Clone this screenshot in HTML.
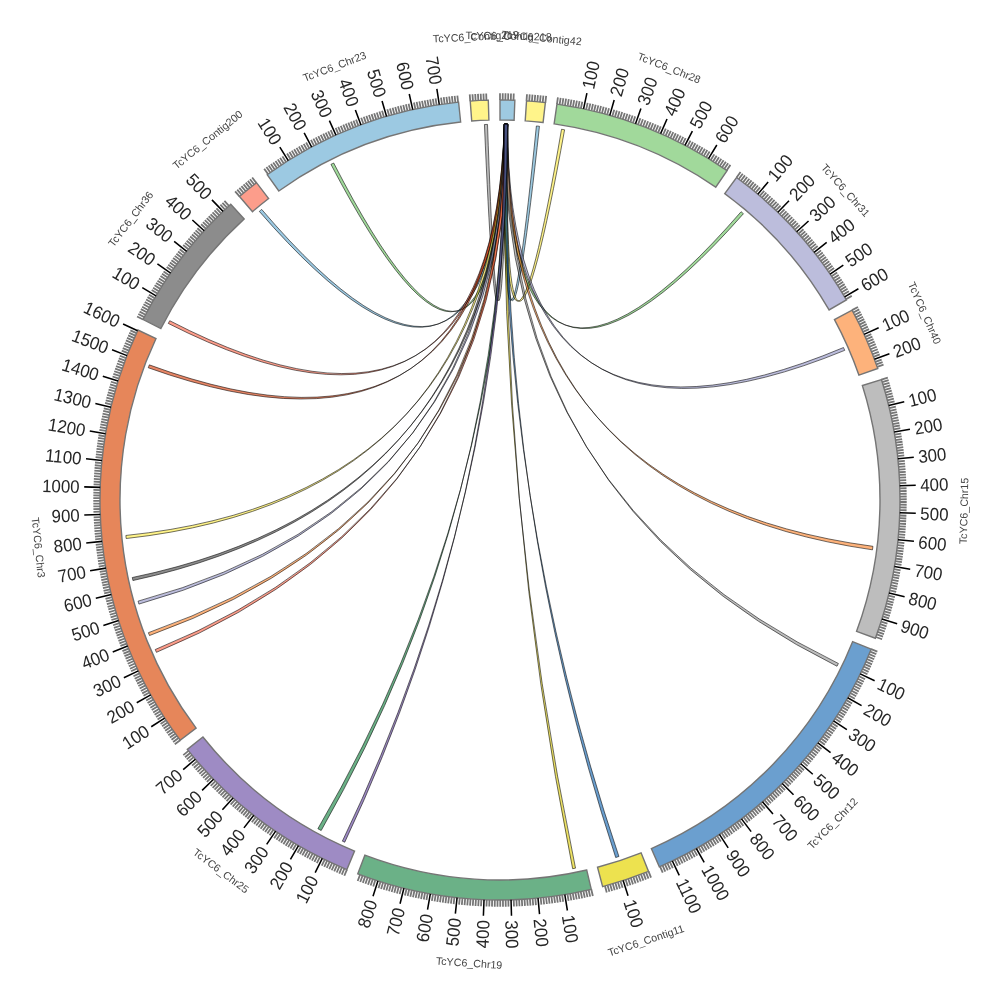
<!DOCTYPE html><html><head><meta charset="utf-8"><title>circos</title><style>html,body{margin:0;padding:0;background:#fff}svg{display:block}</style></head><body><svg width="1000" height="1000" viewBox="0 0 1000 1000" font-family="'Liberation Sans', sans-serif"><path d="M500 100A400.0 400.0 0 0 1 514.86 100.28L514.12 120.26A380.0 380.0 0 0 0 500 120Z" fill="#9ecae1" stroke="#757575" stroke-width="1.4" stroke-linejoin="miter"/>
<path d="M526.53 100.88A400.0 400.0 0 0 1 545.37 102.58L543.1 122.45A380.0 380.0 0 0 0 525.21 120.84Z" fill="#fff48a" stroke="#757575" stroke-width="1.4" stroke-linejoin="miter"/>
<path d="M556.97 104.08A400.0 400.0 0 0 1 727.07 170.7L715.72 187.16A380.0 380.0 0 0 0 554.12 123.87Z" fill="#a1d99b" stroke="#757575" stroke-width="1.4" stroke-linejoin="miter"/>
<path d="M736.59 177.47A400.0 400.0 0 0 1 846.38 299.95L829.06 309.95A380.0 380.0 0 0 0 724.76 193.6Z" fill="#bcbddc" stroke="#757575" stroke-width="1.4" stroke-linejoin="miter"/>
<path d="M852.08 310.16A400.0 400.0 0 0 1 877.76 368.47L858.87 375.04A380.0 380.0 0 0 0 834.48 319.65Z" fill="#fdb27b" stroke="#757575" stroke-width="1.4" stroke-linejoin="miter"/>
<path d="M881.44 379.56A400.0 400.0 0 0 1 875.35 638.24L856.58 631.33A380.0 380.0 0 0 0 862.37 385.58Z" fill="#bdbdbd" stroke="#757575" stroke-width="1.4" stroke-linejoin="miter"/>
<path d="M871.15 649.15A400.0 400.0 0 0 1 659.33 866.9L651.36 848.55A380.0 380.0 0 0 0 852.59 641.7Z" fill="#6b9fcf" stroke="#757575" stroke-width="1.4" stroke-linejoin="miter"/>
<path d="M648.54 871.4A400.0 400.0 0 0 1 602.65 886.6L597.52 867.27A380.0 380.0 0 0 0 641.11 852.83Z" fill="#ede24f" stroke="#757575" stroke-width="1.4" stroke-linejoin="miter"/>
<path d="M591.31 889.44A400.0 400.0 0 0 1 357.75 873.85L364.87 855.16A380.0 380.0 0 0 0 586.74 869.97Z" fill="#6bb187" stroke="#757575" stroke-width="1.4" stroke-linejoin="miter"/>
<path d="M346.89 869.54A400.0 400.0 0 0 1 187.3 749.43L202.93 736.96A380.0 380.0 0 0 0 354.55 851.06Z" fill="#9e8bc4" stroke="#757575" stroke-width="1.4" stroke-linejoin="miter"/>
<path d="M180.14 740.19A400.0 400.0 0 0 1 137.92 330.01L156.02 338.51A380.0 380.0 0 0 0 196.13 728.18Z" fill="#e6865a" stroke="#757575" stroke-width="1.4" stroke-linejoin="miter"/>
<path d="M143.04 319.5A400.0 400.0 0 0 1 230.74 204.2L244.2 218.99A380.0 380.0 0 0 0 160.89 328.53Z" fill="#8c8c8c" stroke="#757575" stroke-width="1.4" stroke-linejoin="miter"/>
<path d="M239.5 196.46A400.0 400.0 0 0 1 256.49 182.66L268.66 198.53A380.0 380.0 0 0 0 252.52 211.64Z" fill="#fc9d8b" stroke="#757575" stroke-width="1.4" stroke-linejoin="miter"/>
<path d="M267.18 174.74A400.0 400.0 0 0 1 458.59 102.15L460.66 122.04A380.0 380.0 0 0 0 278.82 191Z" fill="#9cc9e2" stroke="#757575" stroke-width="1.4" stroke-linejoin="miter"/>
<path d="M470.23 101.11A400.0 400.0 0 0 1 488.31 100.17L488.9 120.16A380.0 380.0 0 0 0 471.72 121.05Z" fill="#fff48a" stroke="#757575" stroke-width="1.4" stroke-linejoin="miter"/>
<path d="M500 100L500 93.3M502.7 100.01L502.75 93.31M505.4 100.04L505.5 93.34M508.11 100.08L508.24 93.38M510.81 100.15L510.99 93.45M513.51 100.23L513.74 93.53M526.53 100.88L526.98 94.2M529.23 101.07L529.72 94.39M531.92 101.28L532.46 94.6M534.62 101.5L535.2 94.83M537.31 101.74L537.93 95.07M540 102L540.67 95.34M542.69 102.28L543.4 95.62M545.37 102.58L546.13 95.92M556.97 104.08L557.92 97.45M559.64 104.47L560.64 97.85M562.31 104.88L563.35 98.26M564.98 105.31L566.07 98.7M567.64 105.76L568.78 99.16M570.31 106.23L571.48 99.63M572.96 106.71L574.19 100.12M575.62 107.21L576.89 100.63M578.27 107.73L579.58 101.16M580.92 108.27L582.28 101.71M586.21 109.4L587.65 102.86M588.84 109.99L590.33 103.46M591.48 110.6L593.01 104.08M594.1 111.23L595.68 104.72M596.73 111.87L598.35 105.37M599.35 112.53L601.01 106.04M601.97 113.21L603.67 106.74M604.58 113.91L606.33 107.45M607.18 114.63L608.98 108.17M612.38 116.11L614.26 109.68M614.97 116.88L616.9 110.46M617.56 117.66L619.53 111.26M620.14 118.47L622.15 112.08M622.71 119.29L624.77 112.91M625.28 120.13L627.38 113.76M627.84 120.98L629.99 114.63M630.4 121.85L632.59 115.52M632.95 122.74L635.18 116.42M638.04 124.57L640.35 118.29M640.57 125.51L642.93 119.24M643.1 126.47L645.5 120.22M645.62 127.45L648.06 121.21M648.13 128.44L650.62 122.22M650.64 129.45L653.16 123.24M653.14 130.48L655.71 124.29M655.63 131.52L658.24 125.35M658.12 132.58L660.77 126.42M663.07 134.75L665.8 128.63M665.53 135.86L668.31 129.76M667.99 136.99L670.8 130.91M670.44 138.13L673.29 132.07M672.88 139.29L675.78 133.25M675.31 140.47L678.25 134.44M677.74 141.66L680.72 135.66M680.16 142.87L683.17 136.89M682.56 144.09L685.62 138.13M687.36 146.59L690.49 140.67M689.74 147.87L692.92 141.97M692.11 149.16L695.33 143.28M694.48 150.46L697.74 144.61M696.84 151.78L700.13 145.95M699.19 153.12L702.52 147.31M701.53 154.47L704.9 148.69M703.85 155.84L707.27 150.08M706.18 157.23L709.63 151.49M710.79 160.05L714.32 154.35M713.08 161.48L716.65 155.81M715.36 162.93L718.97 157.28M717.63 164.39L721.28 158.77M719.9 165.87L723.58 160.27M722.15 167.36L725.87 161.79M724.39 168.87L728.15 163.32M726.62 170.39L730.42 164.87M736.59 177.47L740.56 172.07M738.77 179.08L742.77 173.7M740.93 180.7L744.97 175.35M743.08 182.34L747.15 177.01M745.22 183.98L749.33 178.69M747.35 185.65L751.5 180.38M749.47 187.33L753.65 182.09M751.58 189.02L755.79 183.81M753.67 190.73L757.92 185.55M755.76 192.45L760.04 187.3M759.89 195.93L764.24 190.84M761.94 197.69L766.32 192.63M763.97 199.47L768.4 194.44M766 201.26L770.45 196.26M768.01 203.07L772.5 198.09M770.01 204.88L774.53 199.94M772 206.71L776.55 201.8M773.97 208.56L778.56 203.68M775.94 210.42L780.56 205.57M779.82 214.17L784.51 209.38M781.75 216.07L786.47 211.31M783.66 217.98L788.41 213.25M785.56 219.9L790.34 215.21M787.45 221.84L792.26 217.18M789.32 223.78L794.16 219.16M791.18 225.75L796.06 221.15M793.02 227.72L797.93 223.16M794.86 229.71L799.8 225.18M798.48 233.71L803.48 229.25M800.27 235.74L805.3 231.31M802.05 237.77L807.11 233.38M803.82 239.82L808.91 235.46M805.57 241.88L810.69 237.55M807.31 243.95L812.45 239.66M809.03 246.03L814.2 241.78M810.74 248.12L815.94 243.9M812.43 250.23L817.67 246.04M815.78 254.47L821.07 250.36M817.43 256.61L822.75 252.53M819.07 258.76L824.41 254.72M820.69 260.92L826.06 256.92M822.3 263.09L827.7 259.13M823.89 265.28L829.32 261.35M825.47 267.47L830.92 263.58M827.03 269.68L832.51 265.82M828.58 271.89L834.09 268.07M831.63 276.35L837.19 272.6M833.14 278.6L838.72 274.89M834.63 280.85L840.23 277.18M836.1 283.12L841.73 279.49M837.56 285.39L843.21 281.8M839 287.68L844.68 284.12M840.43 289.97L846.13 286.46M841.84 292.28L847.56 288.8M843.23 294.59L848.98 291.15M845.98 299.25L851.77 295.89M852.08 310.16L857.98 306.98M853.35 312.54L859.27 309.4M854.61 314.93L860.55 311.83M855.86 317.33L861.82 314.27M857.08 319.74L863.06 316.72M858.29 322.16L864.29 319.18M859.48 324.58L865.51 321.64M860.66 327.02L866.7 324.12M861.82 329.46L867.88 326.6M862.97 331.9L869.05 329.09M865.2 336.82L871.32 334.09M866.3 339.3L872.43 336.6M867.38 341.77L873.53 339.12M868.44 344.26L874.61 341.65M869.48 346.75L875.67 344.19M870.51 349.25L876.71 346.73M871.52 351.76L877.74 349.28M872.51 354.27L878.75 351.83M873.49 356.79L879.74 354.39M875.39 361.85L881.67 359.54M876.31 364.39L882.61 362.12M877.22 366.94L883.54 364.71M881.44 379.56L887.83 377.54M882.24 382.14L888.65 380.17M883.03 384.73L889.45 382.8M883.8 387.32L890.23 385.43M884.55 389.91L890.99 388.07M885.29 392.51L891.74 390.71M886.01 395.12L892.47 393.36M886.7 397.73L893.18 396.02M887.39 400.34L893.88 398.67M888.05 402.96L894.55 401.34M889.33 408.22L895.85 406.68M889.94 410.85L896.47 409.35M890.53 413.48L897.07 412.04M891.11 416.13L897.66 414.72M891.67 418.77L898.23 417.41M892.21 421.42L898.77 420.1M892.73 424.07L899.31 422.8M893.23 426.72L899.82 425.5M893.72 429.38L900.31 428.2M894.64 434.71L901.25 433.62M895.07 437.38L901.68 436.33M895.48 440.05L902.11 439.04M895.88 442.72L902.51 441.76M896.26 445.4L902.89 444.48M896.62 448.07L903.26 447.21M896.96 450.76L903.61 449.93M897.28 453.44L903.94 452.66M897.59 456.12L904.25 455.39M898.14 461.5L904.81 460.86M898.39 464.19L905.07 463.59M898.63 466.88L905.3 466.33M898.84 469.58L905.52 469.07M899.04 472.27L905.72 471.81M899.22 474.97L905.9 474.55M899.38 477.67L906.07 477.29M899.52 480.37L906.21 480.04M899.64 483.07L906.34 482.78M899.83 488.47L906.53 488.27M899.9 491.17L906.6 491.02M899.95 493.87L906.65 493.77M899.99 496.57L906.69 496.52M900 499.28L906.7 499.26M900 501.98L906.7 502.01M899.97 504.68L906.67 504.76M899.93 507.38L906.63 507.51M899.87 510.08L906.57 510.25M899.7 515.49L906.4 515.75M899.59 518.19L906.28 518.49M899.45 520.89L906.15 521.24M899.3 523.58L905.99 523.98M899.14 526.28L905.82 526.72M898.95 528.98L905.63 529.46M898.74 531.67L905.42 532.2M898.52 534.37L905.2 534.94M898.28 537.06L904.95 537.68M897.74 542.44L904.4 543.15M897.45 545.12L904.1 545.88M897.13 547.81L903.78 548.61M896.8 550.49L903.45 551.33M896.45 553.17L903.09 554.06M896.08 555.84L902.72 556.78M895.7 558.52L902.32 559.5M895.29 561.19L901.91 562.22M894.87 563.86L901.48 564.93M893.97 569.19L900.57 570.35M893.49 571.85L900.08 573.05M893 574.51L899.58 575.76M892.49 577.16L899.06 578.45M891.96 579.81L898.52 581.15M891.41 582.46L897.96 583.84M890.84 585.1L897.39 586.53M890.26 587.74L896.8 589.21M889.66 590.37L896.18 591.89M888.4 595.63L894.91 597.23M887.75 598.25L894.24 599.9M887.07 600.87L893.56 602.56M886.38 603.48L892.85 605.22M885.67 606.09L892.13 607.87M884.95 608.69L891.4 610.51M884.21 611.29L890.64 613.16M883.45 613.89L889.87 615.79M882.67 616.47L889.08 618.42M881.06 621.63L887.44 623.67M880.23 624.2L886.6 626.29M879.38 626.77L885.73 628.89M878.51 629.33L884.85 631.5M877.63 631.89L883.96 634.09M876.73 634.43L883.04 636.69M875.82 636.98L882.11 639.27M871.15 649.15L877.37 651.65M870.14 651.66L876.33 654.2M869.1 654.15L875.28 656.74M868.05 656.65L874.22 659.27M866.99 659.13L873.13 661.79M865.9 661.6L872.03 664.31M864.8 664.07L870.91 666.82M863.68 666.53L869.78 669.32M862.55 668.99L868.62 671.82M861.4 671.43L867.45 674.3M859.05 676.3L865.07 679.25M857.85 678.72L863.85 681.72M856.64 681.14L862.61 684.17M855.41 683.54L861.36 686.62M854.16 685.94L860.09 689.05M852.89 688.33L858.8 691.48M851.61 690.71L857.5 693.9M850.32 693.08L856.18 696.31M849 695.44L854.85 698.71M846.33 700.14L852.13 703.49M844.97 702.47L850.75 705.86M843.59 704.8L849.35 708.23M842.2 707.12L847.94 710.58M840.8 709.42L846.5 712.93M839.37 711.72L845.06 715.27M837.94 714.01L843.6 717.59M836.48 716.29L842.12 719.91M835.01 718.56L840.62 722.22M832.03 723.06L837.59 726.8M830.51 725.3L836.05 729.07M828.98 727.53L834.5 731.34M827.44 729.75L832.92 733.59M825.88 731.95L831.34 735.84M824.31 734.15L829.74 738.07M822.72 736.33L828.12 740.29M821.11 738.51L826.49 742.5M819.49 740.67L824.85 744.71M816.21 744.97L821.51 749.07M814.55 747.1L819.82 751.24M812.87 749.22L818.11 753.39M811.18 751.33L816.39 755.54M809.48 753.42L814.66 757.67M807.76 755.51L812.91 759.79M806.02 757.58L811.15 761.9M804.28 759.64L809.37 763.99M802.52 761.69L807.58 766.08M798.95 765.76L803.96 770.21M797.15 767.77L802.13 772.26M795.33 769.77L800.28 774.29M793.51 771.76L798.42 776.31M791.66 773.74L796.55 778.32M789.81 775.7L794.66 780.32M787.94 777.65L792.76 782.31M786.05 779.59L790.85 784.28M784.16 781.52L788.92 786.24M780.33 785.33L785.02 790.11M778.39 787.22L783.06 792.03M776.45 789.1L781.08 793.94M774.49 790.96L779.09 795.83M772.52 792.8L777.08 797.71M770.53 794.64L775.06 799.57M768.54 796.46L773.03 801.43M766.53 798.27L770.99 803.26M764.51 800.06L768.94 805.09M760.43 803.61L764.79 808.69M758.37 805.36L762.7 810.48M756.3 807.1L760.59 812.24M754.22 808.82L758.48 814M752.13 810.53L756.35 815.74M750.02 812.23L754.21 817.46M747.91 813.91L752.06 819.17M745.78 815.58L749.9 820.87M743.64 817.23L747.73 822.55M739.34 820.5L743.34 825.87M737.16 822.11L741.14 827.5M734.98 823.7L738.92 829.12M732.79 825.28L736.69 830.73M730.59 826.85L734.45 832.32M728.37 828.4L732.2 833.9M726.15 829.93L729.94 835.46M723.92 831.45L727.67 837.01M721.67 832.96L725.38 838.54M717.15 835.92L720.79 841.55M714.88 837.38L718.48 843.03M712.59 838.83L716.15 844.5M710.3 840.26L713.82 845.96M708 841.67L711.48 847.39M705.68 843.07L709.13 848.81M703.36 844.45L706.77 850.22M701.03 845.81L704.4 851.61M698.69 847.16L702.02 852.98M693.98 849.82L697.23 855.68M691.61 851.12L694.82 857M689.23 852.41L692.4 858.31M686.85 853.68L689.98 859.6M684.45 854.93L687.54 860.88M682.05 856.17L685.1 862.14M679.64 857.39L682.65 863.38M677.22 858.6L680.19 864.6M674.8 859.79L677.72 865.81M669.92 862.12L672.77 868.18M667.47 863.26L670.27 869.34M665.01 864.38L667.77 870.48M662.55 865.48L665.27 871.61M660.07 866.57L662.75 872.71M648.54 871.4L651.03 877.62M646.03 872.39L648.47 878.63M643.51 873.37L645.91 879.62M640.98 874.33L643.34 880.6M638.45 875.28L640.77 881.56M635.91 876.2L638.19 882.5M633.37 877.11L635.6 883.43M630.82 878L633.01 884.34M628.26 878.88L630.41 885.23M625.7 879.74L627.8 886.1M620.55 881.4L622.57 887.79M617.97 882.21L619.95 888.61M615.39 883L617.32 889.41M612.8 883.77L614.69 890.19M610.2 884.52L612.05 890.96M607.6 885.26L609.41 891.71M605 885.97L606.76 892.44M591.31 889.44L592.84 895.96M588.68 890.05L590.16 896.58M586.04 890.64L587.48 897.18M583.4 891.21L584.79 897.76M580.75 891.76L582.1 898.33M578.1 892.3L579.41 898.87M575.45 892.82L576.71 899.4M572.8 893.32L574.01 899.91M570.14 893.8L571.31 900.4M567.47 894.27L568.6 900.87M562.14 895.14L563.18 901.76M559.47 895.55L560.47 902.18M556.8 895.95L557.75 902.58M554.12 896.32L555.03 902.96M551.44 896.68L552.3 903.32M548.76 897.02L549.58 903.67M546.08 897.34L546.85 903.99M543.39 897.64L544.12 904.3M540.7 897.92L541.38 904.59M535.32 898.44L535.91 905.11M532.63 898.67L533.18 905.34M529.94 898.88L530.44 905.56M527.24 899.07L527.7 905.76M524.54 899.25L524.95 905.93M521.84 899.4L522.21 906.09M519.15 899.54L519.47 906.23M516.45 899.66L516.72 906.36M513.75 899.76L513.98 906.46M508.34 899.91L508.48 906.61M505.64 899.96L505.74 906.66M502.94 899.99L502.99 906.69M500.24 900L500.24 906.7M497.53 899.99L497.49 906.69M494.83 899.97L494.74 906.67M492.13 899.92L492 906.62M489.43 899.86L489.25 906.56M486.73 899.78L486.5 906.48M481.33 899.56L481.01 906.26M478.63 899.43L478.27 906.12M475.93 899.28L475.52 905.96M473.23 899.1L472.78 905.79M470.54 898.91L470.04 905.6M467.84 898.71L467.3 905.38M465.15 898.48L464.56 905.15M462.46 898.23L461.83 904.9M459.77 897.97L459.09 904.64M454.39 897.39L453.63 904.05M451.71 897.07L450.9 903.73M449.03 896.74L448.17 903.38M446.35 896.39L445.45 903.02M443.67 896.01L442.73 902.65M441 895.62L440.01 902.25M438.33 895.22L437.29 901.84M435.66 894.79L434.58 901.4M432.99 894.35L431.87 900.95M427.67 893.41L426.46 900M425.01 892.91L423.76 899.49M422.36 892.39L421.06 898.97M419.71 891.86L418.37 898.42M417.06 891.31L415.68 897.86M414.42 890.74L412.99 897.28M411.78 890.15L410.31 896.69M409.15 889.55L407.63 896.07M406.52 888.92L404.96 895.44M401.27 887.63L399.62 894.12M398.66 886.95L396.96 893.43M396.05 886.26L394.3 892.73M393.44 885.54L391.65 892M390.84 884.82L389.01 891.26M388.24 884.07L386.37 890.5M385.65 883.31L383.73 889.73M383.06 882.52L381.1 888.93M380.48 881.73L378.48 888.12M375.33 880.08L373.24 886.44M372.77 879.22L370.63 885.58M370.21 878.36L368.03 884.69M367.65 877.47L365.44 883.79M365.11 876.57L362.85 882.88M362.56 875.65L360.26 881.94M360.03 874.71L357.69 880.99M346.89 869.54L344.33 875.73M344.4 868.49L341.79 874.67M341.91 867.43L339.26 873.59M339.43 866.36L336.74 872.49M336.96 865.26L334.23 871.38M334.5 864.15L331.72 870.25M332.04 863.03L329.23 869.11M329.59 861.89L326.74 867.95M327.15 860.73L324.26 866.77M324.72 859.55L321.78 865.57M319.88 857.15L316.86 863.13M317.47 855.92L314.41 861.89M315.07 854.68L311.97 860.62M312.67 853.42L309.54 859.34M310.29 852.15L307.11 858.05M307.92 850.86L304.7 856.74M305.55 849.56L302.29 855.41M303.19 848.23L299.9 854.07M300.84 846.9L297.51 852.71M296.17 844.17L292.76 849.94M293.85 842.79L290.4 848.53M291.54 841.39L288.05 847.11M289.24 839.97L285.71 845.67M286.95 838.54L283.38 844.21M284.67 837.09L281.06 842.74M282.39 835.63L278.75 841.25M280.13 834.15L276.45 839.75M277.88 832.66L274.16 838.23M273.4 829.63L269.61 835.15M271.18 828.09L267.35 833.58M268.97 826.54L265.1 832.01M266.77 824.97L262.86 830.41M264.58 823.38L260.64 828.8M262.4 821.79L258.42 827.18M260.23 820.17L256.22 825.54M258.07 818.55L254.02 823.88M255.93 816.9L251.84 822.21M251.67 813.58L247.51 818.83M249.55 811.89L245.36 817.12M247.45 810.19L243.22 815.39M245.36 808.48L241.1 813.65M243.29 806.75L238.99 811.89M241.22 805.01L236.88 810.12M239.16 803.26L234.79 808.34M237.12 801.49L232.72 806.54M235.09 799.7L230.65 804.72M231.06 796.1L226.56 801.06M229.07 794.27L224.53 799.2M227.09 792.44L222.52 797.33M225.12 790.59L220.51 795.45M223.16 788.72L218.52 793.56M221.22 786.85L216.55 791.65M219.29 784.96L214.58 789.73M217.37 783.05L212.63 787.79M215.46 781.14L210.69 785.85M211.69 777.27L206.86 781.91M209.82 775.31L204.96 779.92M207.97 773.34L203.08 777.92M206.13 771.37L201.21 775.91M204.3 769.37L199.35 773.89M202.49 767.37L197.5 771.85M200.69 765.35L195.67 769.8M198.9 763.33L193.86 767.74M197.13 761.29L192.06 765.66M193.63 757.17L188.5 761.48M191.9 755.09L186.74 759.37M190.18 753.01L184.99 757.24M188.48 750.91L183.26 755.11M180.14 740.19L174.78 744.21M178.52 738.02L173.14 742.01M176.92 735.84L171.51 739.79M175.34 733.65L169.9 737.57M173.77 731.46L168.3 735.33M172.21 729.25L166.72 733.09M170.67 727.03L165.15 730.83M169.14 724.8L163.6 728.56M167.63 722.56L162.06 726.28M166.14 720.31L160.54 724M163.19 715.77L157.55 719.39M161.74 713.49L156.07 717.07M160.3 711.2L154.61 714.74M158.89 708.9L153.17 712.4M157.48 706.59L151.74 710.05M156.09 704.28L150.33 707.7M154.72 701.95L148.94 705.33M153.36 699.61L147.56 702.95M152.02 697.26L146.2 700.57M149.39 692.54L143.52 695.77M148.1 690.17L142.2 693.36M146.82 687.79L140.91 690.93M145.56 685.4L139.62 688.5M144.32 683L138.36 686.06M143.09 680.59L137.11 683.62M141.88 678.18L135.88 681.16M140.68 675.75L134.66 678.7M139.5 673.32L133.46 676.22M137.19 668.43L131.11 671.26M136.06 665.98L129.97 668.76M134.95 663.52L128.83 666.26M133.85 661.05L127.72 663.74M132.77 658.57L126.62 661.22M131.71 656.08L125.54 658.7M130.66 653.59L124.48 656.17M129.63 651.09L123.43 653.62M128.62 648.59L122.4 651.08M126.65 643.56L120.39 645.96M125.69 641.03L119.42 643.39M124.74 638.5L118.46 640.82M123.82 635.96L117.51 638.24M122.91 633.42L116.59 635.65M122.01 630.86L115.68 633.06M121.14 628.31L114.79 630.46M120.28 625.75L113.92 627.85M119.44 623.18L113.06 625.24M117.81 618.02L111.41 620M117.02 615.44L110.6 617.37M116.25 612.85L109.82 614.74M115.49 610.25L109.05 612.1M114.76 607.65L108.31 609.46M114.04 605.05L107.58 606.81M113.34 602.44L106.86 604.15M112.66 599.82L106.17 601.49M111.99 597.2L105.49 598.83M110.71 591.95L104.19 593.49M110.1 589.32L103.57 590.82M109.51 586.68L102.96 588.14M108.93 584.04L102.38 585.45M108.37 581.4L101.81 582.76M107.83 578.75L101.26 580.07M107.31 576.1L100.73 577.37M106.8 573.45L100.21 574.68M106.31 570.79L99.72 571.97M105.39 565.46L98.78 566.56M104.96 562.79L98.34 563.85M104.54 560.12L97.92 561.13M104.15 557.45L97.52 558.41M103.77 554.77L97.13 555.69M103.41 552.1L96.76 552.97M103.06 549.42L96.42 550.24M102.74 546.73L96.09 547.52M102.43 544.05L95.77 544.79M101.87 538.67L95.21 539.32M101.62 535.98L94.95 536.58M101.39 533.29L94.71 533.85M101.17 530.59L94.49 531.11M100.97 527.9L94.29 528.37M100.79 525.2L94.11 525.62M100.63 522.5L93.94 522.88M100.49 519.81L93.8 520.14M100.37 517.11L93.67 517.39M100.17 511.71L93.47 511.9M100.1 509L93.4 509.15M100.05 506.3L93.35 506.41M100.02 503.6L93.32 503.66M100 500.9L93.3 500.91M100 498.19L93.3 498.16M100.03 495.49L93.33 495.42M100.06 492.79L93.37 492.67M100.12 490.09L93.42 489.92M100.29 484.69L93.6 484.43M100.41 481.99L93.71 481.68M100.54 479.29L93.85 478.94M100.69 476.59L94 476.2M100.85 473.89L94.17 473.45M101.04 471.19L94.36 470.71M101.24 468.5L94.56 467.97M101.46 465.81L94.79 465.23M101.7 463.11L95.03 462.5M102.24 457.74L95.58 457.03M102.53 455.05L95.88 454.3M102.85 452.37L96.19 451.57M103.18 449.68L96.53 448.84M103.53 447L96.89 446.12M103.89 444.33L97.26 443.39M104.28 441.65L97.65 440.67M104.68 438.98L98.06 437.96M105.1 436.31L98.49 435.24M106 430.98L99.4 429.82M106.48 428.32L99.88 427.12M106.97 425.66L100.39 424.42M107.48 423.01L100.9 421.72M108.01 420.36L101.44 419.02M108.56 417.71L102 416.33M109.12 415.07L102.57 413.65M109.7 412.43L103.17 410.96M110.3 409.79L103.78 408.28M111.56 404.54L105.05 402.94M112.21 401.92L105.72 400.27M112.88 399.3L106.4 397.61M113.57 396.68L107.1 394.95M114.28 394.08L107.82 392.3M115 391.47L108.56 389.65M115.75 388.87L109.31 387.01M116.51 386.28L110.08 384.38M117.28 383.69L110.87 381.74M118.89 378.53L112.51 376.5M119.72 375.96L113.35 373.88M120.57 373.39L114.21 371.27M121.43 370.83L115.09 368.67M122.31 368.28L115.98 366.07M123.21 365.73L116.9 363.48M124.13 363.19L117.83 360.89M125.06 360.65L118.78 358.32M126.01 358.12L119.74 355.74M127.96 353.08L121.73 350.62M128.96 350.57L122.75 348.07M129.98 348.07L123.78 345.52M131.01 345.57L124.83 342.98M132.07 343.08L125.9 340.45M133.13 340.6L126.99 337.93M134.22 338.12L128.09 335.41M135.32 335.65L129.21 332.9M136.44 333.19L130.35 330.4M143.04 319.5L137.06 316.48M144.27 317.09L138.31 314.03M145.51 314.69L139.57 311.59M146.77 312.3L140.86 309.16M148.05 309.92L142.15 306.74M149.34 307.55L143.47 304.32M150.65 305.18L144.8 301.92M151.97 302.83L146.14 299.52M153.31 300.48L147.51 297.14M154.67 298.14L148.88 294.76M157.43 293.49L151.69 290.04M158.83 291.18L153.12 287.69M160.25 288.88L154.56 285.35M161.68 286.59L156.02 283.02M163.13 284.31L157.49 280.7M164.6 282.04L158.98 278.39M166.08 279.78L160.49 276.09M167.57 277.53L162.01 273.8M169.08 275.29L163.54 271.53M172.15 270.84L166.66 267M173.71 268.63L168.24 264.75M175.28 266.43L169.84 262.52M176.86 264.24L171.45 260.29M178.46 262.06L173.08 258.08M180.08 259.9L174.72 255.87M181.71 257.74L176.38 253.68M183.35 255.59L178.05 251.5M185.01 253.46L179.73 249.33M188.37 249.23L183.15 245.03M190.07 247.13L184.88 242.89M191.79 245.04L186.62 240.77M193.52 242.96L188.38 238.66M195.26 240.9L190.16 236.56M197.02 238.85L191.94 234.47M198.79 236.8L193.74 232.4M200.57 234.78L195.56 230.33M202.37 232.76L197.39 228.28M206.01 228.76L201.09 224.22M207.85 226.78L202.96 222.2M209.7 224.81L204.84 220.2M211.57 222.86L206.74 218.22M213.45 220.92L208.65 216.24M215.34 218.99L210.57 214.28M217.24 217.07L212.51 212.33M219.16 215.17L214.46 210.39M221.09 213.27L216.42 208.47M224.99 209.53L220.39 204.67M226.96 207.68L222.39 202.78M228.94 205.84L224.4 200.92M239.5 196.46L235.13 191.37M241.55 194.71L237.22 189.59M243.62 192.97L239.33 187.82M245.7 191.24L241.44 186.07M247.79 189.53L243.57 184.33M249.9 187.83L245.71 182.6M252.01 186.15L247.86 180.89M254.14 184.48L250.02 179.2M256.27 182.83L252.19 177.52M268.06 174.11L264.18 168.65M270.27 172.55L266.42 167.07M272.49 171.01L268.68 165.49M274.71 169.48L270.94 163.94M276.95 167.96L273.22 162.4M279.2 166.46L275.5 160.88M281.46 164.98L277.8 159.37M283.73 163.51L280.1 157.87M286.01 162.06L282.42 156.39M290.59 159.19L287.08 153.49M292.9 157.79L289.43 152.06M295.22 156.4L291.79 150.64M297.54 155.02L294.15 149.24M299.88 153.66L296.53 147.86M302.22 152.32L298.91 146.49M304.58 150.99L301.3 145.14M306.94 149.68L303.7 143.81M309.31 148.38L306.11 142.49M314.08 145.84L310.96 139.9M316.47 144.59L313.4 138.63M318.88 143.36L315.85 137.38M321.29 142.14L318.3 136.15M323.72 140.94L320.76 134.93M326.15 139.76L323.23 133.72M328.58 138.59L325.71 132.54M331.03 137.44L328.2 131.37M333.48 136.31L330.69 130.22M338.41 134.09L335.71 127.96M340.89 133.01L338.22 126.86M343.37 131.94L340.75 125.78M345.86 130.89L343.28 124.71M348.36 129.86L345.82 123.66M350.86 128.84L348.36 122.63M353.37 127.84L350.92 121.61M355.89 126.86L353.48 120.61M358.42 125.9L356.04 119.63M363.48 124.02L361.2 117.72M366.03 123.1L363.78 116.79M368.58 122.21L366.37 115.88M371.13 121.33L368.97 114.98M373.69 120.47L371.58 114.11M376.26 119.62L374.19 113.25M378.83 118.79L376.8 112.41M381.41 117.98L379.42 111.58M383.99 117.19L382.05 110.78M389.18 115.66L387.32 109.22M391.78 114.92L389.96 108.47M394.38 114.2L392.61 107.73M396.99 113.49L395.26 107.02M399.6 112.8L397.92 106.32M402.22 112.13L400.58 105.64M404.84 111.48L403.25 104.98M407.47 110.85L405.92 104.33M410.1 110.23L408.6 103.7M415.38 109.05L413.96 102.51M418.02 108.49L416.65 101.93M420.67 107.95L419.34 101.38M423.32 107.42L422.03 100.84M425.97 106.91L424.73 100.33M428.63 106.42L427.43 99.83M431.29 105.95L430.14 99.34M433.95 105.49L432.85 98.88M436.62 105.05L435.56 98.44M441.96 104.23L440.99 97.6M444.64 103.85L443.71 97.21M447.32 103.48L446.43 96.84M450 103.14L449.16 96.49M452.68 102.81L451.89 96.16M455.36 102.5L454.62 95.84M458.05 102.21L457.35 95.54M470.23 101.11L469.73 94.43M472.93 100.92L472.47 94.23M475.62 100.74L475.22 94.06M478.32 100.59L477.96 93.9M481.02 100.45L480.7 93.76M483.72 100.33L483.45 93.64M486.42 100.23L486.19 93.53" stroke="#757575" stroke-width="1.8" fill="none"/>
<path d="M583.57 108.83L586.91 93.18M609.78 115.36L614.17 99.97M635.5 123.65L640.92 108.6M660.6 133.66L667.02 119M684.96 145.33L692.36 131.15M708.49 158.63L716.83 144.98M757.83 194.18L768.14 181.95M777.89 212.29L789 200.78M796.68 231.7L808.54 220.97M814.11 252.34L826.68 242.44M830.12 274.12L843.32 265.08M844.61 296.92L858.4 288.79M864.09 334.36L878.66 327.74M874.44 359.32L889.42 353.69M888.7 405.59L904.25 401.81M894.19 432.04L909.95 429.33M897.87 458.81L913.79 457.16M899.75 485.77L915.74 485.2M899.8 512.79L915.79 513.3M898.02 539.75L913.94 541.34M894.43 566.53L910.21 569.19M889.04 593L904.6 596.72M881.87 619.06L897.15 623.82M860.23 673.87L874.64 680.82M847.67 697.79L861.58 705.7M833.53 720.81L846.87 729.65M817.86 742.83L830.57 752.54M800.74 763.73L812.77 774.28M782.25 783.43L793.54 794.77M762.47 801.84L772.97 813.92M741.5 818.87L751.16 831.63M719.42 834.45L728.19 847.83M696.34 848.5L704.19 862.44M672.36 860.96L679.26 875.4M623.13 880.58L628.05 895.8M564.81 894.71L567.4 910.5M538.01 898.19L539.53 914.12M511.04 899.85L511.49 915.84M484.03 899.68L483.39 915.67M457.08 897.69L455.36 913.6M430.33 893.89L427.54 909.64M403.9 888.28L400.05 903.81M377.9 880.91L373.02 896.15M322.29 858.36L315.18 872.69M298.5 845.54L290.44 859.36M275.64 831.15L266.66 844.4M253.79 815.25L243.94 827.86M233.07 797.91L222.39 809.82M213.57 779.21L202.11 790.38M195.37 759.23L183.19 769.6M164.65 718.04L151.24 726.77M150.7 694.91L136.73 702.7M138.34 670.88L123.87 677.72M127.63 646.08L112.73 651.92M118.61 620.6L103.36 625.43M111.34 594.58L95.8 598.36M105.84 568.13L90.08 570.85M102.14 541.36L86.23 543.01M100.26 514.41L84.27 514.98M100.2 487.39L84.21 486.88M101.96 460.42L86.04 458.84M105.54 433.64L89.76 430.99M110.92 407.16L95.36 403.45M118.08 381.11L102.8 376.35M126.98 355.6L112.05 349.82M137.58 330.74L123.08 323.97M156.04 295.81L142.28 287.65M170.61 273.06L157.43 263.98M186.68 251.34L174.15 241.39M204.19 230.75L192.35 219.98M223.04 211.4L211.96 199.85M288.29 160.62L279.83 147.04M311.69 147.1L304.16 132.98M335.94 135.19L329.38 120.6M360.95 124.95L355.38 109.95M386.58 116.42L382.05 101.07M412.74 109.63L409.25 94.02M439.29 104.63L436.86 88.82" stroke="#000" stroke-width="1.55" fill="none"/>
<g font-size="18" fill="#262626"><text transform="translate(587.85,88.78) rotate(-77.94) scale(0.94,1)" text-anchor="start" dy="0.355em">100</text><text transform="translate(615.41,95.65) rotate(-74.07) scale(0.94,1)" text-anchor="start" dy="0.355em">200</text><text transform="translate(642.44,104.36) rotate(-70.2) scale(0.94,1)" text-anchor="start" dy="0.355em">300</text><text transform="translate(668.83,114.88) rotate(-66.33) scale(0.94,1)" text-anchor="start" dy="0.355em">400</text><text transform="translate(694.44,127.16) rotate(-62.46) scale(0.94,1)" text-anchor="start" dy="0.355em">500</text><text transform="translate(719.17,141.13) rotate(-58.59) scale(0.94,1)" text-anchor="start" dy="0.355em">600</text><text transform="translate(771.04,178.51) rotate(-49.87) scale(0.94,1)" text-anchor="start" dy="0.355em">100</text><text transform="translate(792.13,197.54) rotate(-46) scale(0.94,1)" text-anchor="start" dy="0.355em">200</text><text transform="translate(811.88,217.95) rotate(-42.12) scale(0.94,1)" text-anchor="start" dy="0.355em">300</text><text transform="translate(830.21,239.65) rotate(-38.25) scale(0.94,1)" text-anchor="start" dy="0.355em">400</text><text transform="translate(847.03,262.54) rotate(-34.38) scale(0.94,1)" text-anchor="start" dy="0.355em">500</text><text transform="translate(862.27,286.51) rotate(-30.51) scale(0.94,1)" text-anchor="start" dy="0.355em">600</text><text transform="translate(882.75,325.87) rotate(-24.46) scale(0.94,1)" text-anchor="start" dy="0.355em">100</text><text transform="translate(893.64,352.11) rotate(-20.59) scale(0.94,1)" text-anchor="start" dy="0.355em">200</text><text transform="translate(908.62,400.75) rotate(-13.65) scale(0.94,1)" text-anchor="start" dy="0.355em">100</text><text transform="translate(914.39,428.56) rotate(-9.78) scale(0.94,1)" text-anchor="start" dy="0.355em">200</text><text transform="translate(918.26,456.7) rotate(-5.91) scale(0.94,1)" text-anchor="start" dy="0.355em">300</text><text transform="translate(920.23,485.04) rotate(-2.04) scale(0.94,1)" text-anchor="start" dy="0.355em">400</text><text transform="translate(920.29,513.44) rotate(1.83) scale(0.94,1)" text-anchor="start" dy="0.355em">500</text><text transform="translate(918.42,541.78) rotate(5.7) scale(0.94,1)" text-anchor="start" dy="0.355em">600</text><text transform="translate(914.64,569.94) rotate(9.57) scale(0.94,1)" text-anchor="start" dy="0.355em">700</text><text transform="translate(908.98,597.77) rotate(13.44) scale(0.94,1)" text-anchor="start" dy="0.355em">800</text><text transform="translate(901.44,625.16) rotate(17.32) scale(0.94,1)" text-anchor="start" dy="0.355em">900</text><text transform="translate(878.7,682.78) rotate(25.76) scale(0.94,1)" text-anchor="start" dy="0.355em">100</text><text transform="translate(865.49,707.93) rotate(29.64) scale(0.94,1)" text-anchor="start" dy="0.355em">200</text><text transform="translate(850.62,732.13) rotate(33.51) scale(0.94,1)" text-anchor="start" dy="0.355em">300</text><text transform="translate(834.15,755.27) rotate(37.38) scale(0.94,1)" text-anchor="start" dy="0.355em">400</text><text transform="translate(816.15,777.25) rotate(41.25) scale(0.94,1)" text-anchor="start" dy="0.355em">500</text><text transform="translate(796.72,797.96) rotate(45.12) scale(0.94,1)" text-anchor="start" dy="0.355em">600</text><text transform="translate(775.92,817.31) rotate(48.99) scale(0.94,1)" text-anchor="start" dy="0.355em">700</text><text transform="translate(753.87,835.22) rotate(52.86) scale(0.94,1)" text-anchor="start" dy="0.355em">800</text><text transform="translate(730.66,851.59) rotate(56.73) scale(0.94,1)" text-anchor="start" dy="0.355em">900</text><text transform="translate(706.4,866.36) rotate(60.6) scale(0.94,1)" text-anchor="start" dy="0.355em">1000</text><text transform="translate(681.2,879.46) rotate(64.48) scale(0.94,1)" text-anchor="start" dy="0.355em">1100</text><text transform="translate(629.44,900.08) rotate(72.07) scale(0.94,1)" text-anchor="start" dy="0.355em">100</text><text transform="translate(568.13,914.94) rotate(80.68) scale(0.94,1)" text-anchor="start" dy="0.355em">100</text><text transform="translate(539.96,918.6) rotate(84.55) scale(0.94,1)" text-anchor="start" dy="0.355em">200</text><text transform="translate(511.61,920.34) rotate(88.42) scale(0.94,1)" text-anchor="start" dy="0.355em">300</text><text transform="translate(483.21,920.16) rotate(272.29) scale(0.94,1)" text-anchor="end" dy="0.355em">400</text><text transform="translate(454.88,918.07) rotate(276.16) scale(0.94,1)" text-anchor="end" dy="0.355em">500</text><text transform="translate(426.76,914.07) rotate(280.03) scale(0.94,1)" text-anchor="end" dy="0.355em">600</text><text transform="translate(398.97,908.18) rotate(283.9) scale(0.94,1)" text-anchor="end" dy="0.355em">700</text><text transform="translate(371.64,900.43) rotate(287.77) scale(0.94,1)" text-anchor="end" dy="0.355em">800</text><text transform="translate(313.18,876.72) rotate(296.38) scale(0.94,1)" text-anchor="end" dy="0.355em">100</text><text transform="translate(288.18,863.25) rotate(300.25) scale(0.94,1)" text-anchor="end" dy="0.355em">200</text><text transform="translate(264.14,848.12) rotate(304.12) scale(0.94,1)" text-anchor="end" dy="0.355em">300</text><text transform="translate(241.17,831.4) rotate(307.99) scale(0.94,1)" text-anchor="end" dy="0.355em">400</text><text transform="translate(219.39,813.18) rotate(311.86) scale(0.94,1)" text-anchor="end" dy="0.355em">500</text><text transform="translate(198.89,793.52) rotate(315.73) scale(0.94,1)" text-anchor="end" dy="0.355em">600</text><text transform="translate(179.76,772.52) rotate(319.6) scale(0.94,1)" text-anchor="end" dy="0.355em">700</text><text transform="translate(147.47,729.22) rotate(326.97) scale(0.94,1)" text-anchor="end" dy="0.355em">100</text><text transform="translate(132.8,704.9) rotate(330.84) scale(0.94,1)" text-anchor="end" dy="0.355em">200</text><text transform="translate(119.8,679.64) rotate(334.71) scale(0.94,1)" text-anchor="end" dy="0.355em">300</text><text transform="translate(108.54,653.56) rotate(338.58) scale(0.94,1)" text-anchor="end" dy="0.355em">400</text><text transform="translate(99.07,626.78) rotate(342.45) scale(0.94,1)" text-anchor="end" dy="0.355em">500</text><text transform="translate(91.42,599.43) rotate(346.32) scale(0.94,1)" text-anchor="end" dy="0.355em">600</text><text transform="translate(85.64,571.62) rotate(350.19) scale(0.94,1)" text-anchor="end" dy="0.355em">700</text><text transform="translate(81.75,543.48) rotate(354.06) scale(0.94,1)" text-anchor="end" dy="0.355em">800</text><text transform="translate(79.77,515.14) rotate(357.94) scale(0.94,1)" text-anchor="end" dy="0.355em">900</text><text transform="translate(79.71,486.74) rotate(361.81) scale(0.94,1)" text-anchor="end" dy="0.355em">1000</text><text transform="translate(81.56,458.4) rotate(365.68) scale(0.94,1)" text-anchor="end" dy="0.355em">1100</text><text transform="translate(85.33,430.24) rotate(369.55) scale(0.94,1)" text-anchor="end" dy="0.355em">1200</text><text transform="translate(90.98,402.41) rotate(373.42) scale(0.94,1)" text-anchor="end" dy="0.355em">1300</text><text transform="translate(98.5,375.02) rotate(377.29) scale(0.94,1)" text-anchor="end" dy="0.355em">1400</text><text transform="translate(107.86,348.2) rotate(381.16) scale(0.94,1)" text-anchor="end" dy="0.355em">1500</text><text transform="translate(119,322.07) rotate(385.03) scale(0.94,1)" text-anchor="end" dy="0.355em">1600</text><text transform="translate(138.41,285.35) rotate(390.69) scale(0.94,1)" text-anchor="end" dy="0.355em">100</text><text transform="translate(153.73,261.43) rotate(394.57) scale(0.94,1)" text-anchor="end" dy="0.355em">200</text><text transform="translate(170.63,238.59) rotate(398.44) scale(0.94,1)" text-anchor="end" dy="0.355em">300</text><text transform="translate(189.02,216.95) rotate(402.31) scale(0.94,1)" text-anchor="end" dy="0.355em">400</text><text transform="translate(208.84,196.61) rotate(406.18) scale(0.94,1)" text-anchor="end" dy="0.355em">500</text><text transform="translate(277.44,143.22) rotate(418.04) scale(0.94,1)" text-anchor="end" dy="0.355em">100</text><text transform="translate(302.04,129.01) rotate(421.92) scale(0.94,1)" text-anchor="end" dy="0.355em">200</text><text transform="translate(327.54,116.49) rotate(425.79) scale(0.94,1)" text-anchor="end" dy="0.355em">300</text><text transform="translate(353.82,105.73) rotate(429.66) scale(0.94,1)" text-anchor="end" dy="0.355em">400</text><text transform="translate(380.77,96.76) rotate(433.53) scale(0.94,1)" text-anchor="end" dy="0.355em">500</text><text transform="translate(408.27,89.63) rotate(437.4) scale(0.94,1)" text-anchor="end" dy="0.355em">600</text><text transform="translate(436.18,84.37) rotate(441.27) scale(0.94,1)" text-anchor="end" dy="0.355em">700</text></g>
<g font-size="10.7" fill="#444"><text transform="translate(508.62,36.08) rotate(1.06)" text-anchor="middle" dy="0.35em">TcYC6_Contig218</text><text transform="translate(541.72,37.88) rotate(5.16)" text-anchor="middle" dy="0.35em">TcYC6_Contig42</text><text transform="translate(669.21,67.95) rotate(21.39)" text-anchor="middle" dy="0.35em">TcYC6_Chr28</text><text transform="translate(845.51,190.29) rotate(48.13)" text-anchor="middle" dy="0.35em">TcYC6_Chr31</text><text transform="translate(924.65,313.01) rotate(66.23)" text-anchor="middle" dy="0.35em">TcYC6_Chr40</text><text transform="translate(963.87,510.91) rotate(-88.65)" text-anchor="middle" dy="0.35em">TcYC6_Chr15</text><text transform="translate(832.59,823.54) rotate(-45.79)" text-anchor="middle" dy="0.35em">TcYC6_Chr12</text><text transform="translate(645.96,940.45) rotate(-18.33)" text-anchor="middle" dy="0.35em">TcYC6_Contig11</text><text transform="translate(469.1,962.97) rotate(3.82)" text-anchor="middle" dy="0.35em">TcYC6_Chr19</text><text transform="translate(220.99,870.74) rotate(36.96)" text-anchor="middle" dy="0.35em">TcYC6_Chr25</text><text transform="translate(38.44,547.51) rotate(84.12)" text-anchor="middle" dy="0.35em">TcYC6_Chr3</text><text transform="translate(130.69,219.1) rotate(307.26)" text-anchor="middle" dy="0.35em">TcYC6_Chr36</text><text transform="translate(207.56,139.76) rotate(320.93)" text-anchor="middle" dy="0.35em">TcYC6_Contig200</text><text transform="translate(334.59,66.48) rotate(339.12)" text-anchor="middle" dy="0.35em">TcYC6_Chr23</text><text transform="translate(475.95,36.62) rotate(357.03)" text-anchor="middle" dy="0.35em">TcYC6_Contig219</text></g>
<g stroke="#000" stroke-width="0.66" stroke-opacity="0.85" fill-opacity="0.6" stroke-linejoin="round"><path d="M504.35 124.23Q499.66 477.5 484.43 124.52A375.8 375.8 0 0 1 487.51 124.41Q499.85 477.5 507.65 124.28A375.8 375.8 0 0 0 504.35 124.23Z" fill="#919191"/><path d="M504.35 124.23Q501.3 476.04 536.38 125.96A375.8 375.8 0 0 1 539.44 126.28Q501.51 476.05 507.65 124.28A375.8 375.8 0 0 0 504.35 124.23Z" fill="#5da7cd"/><path d="M504.35 124.23Q502.15 475.59 561.54 129.27A375.8 375.8 0 0 1 564.58 129.79Q502.36 475.61 507.65 124.28A375.8 375.8 0 0 0 504.35 124.23Z" fill="#ffed3c"/><path d="M504.35 124.23Q494.92 478.08 330.94 164.37A375.8 375.8 0 0 1 333.7 163Q495.11 478.04 507.65 124.28A375.8 375.8 0 0 0 504.35 124.23Z" fill="#62c058"/><path d="M504.35 124.23Q493.13 480.69 259.32 211.38A375.8 375.8 0 0 1 261.7 209.42Q493.29 480.63 507.65 124.28A375.8 375.8 0 0 0 504.35 124.23Z" fill="#5aa5cf"/><path d="M504.35 124.23Q506.76 481.71 741.08 211.72A375.8 375.8 0 0 1 743.44 213.71Q506.92 481.77 507.65 124.28A375.8 375.8 0 0 0 504.35 124.23Z" fill="#62c058"/><path d="M504.35 124.23Q507.42 488.72 843.48 347.54A375.8 375.8 0 0 1 844.72 350.36Q507.52 488.79 507.65 124.28A375.8 375.8 0 0 0 504.35 124.23Z" fill="#8f91c5"/><path d="M504.35 124.23Q503.77 496.71 872.93 546.32A375.8 375.8 0 0 1 872.48 549.83Q503.8 496.75 507.65 124.28A375.8 375.8 0 0 0 504.35 124.23Z" fill="#fc7f23"/><path d="M504.35 124.23Q501.28 499.21 838.38 663.47A375.8 375.8 0 0 1 837.03 666.24Q501.28 499.22 507.65 124.28A375.8 375.8 0 0 0 504.35 124.23Z" fill="#919191"/><path d="M504.35 124.23Q498.51 500.14 575.53 868.13A375.8 375.8 0 0 1 572.64 868.71Q498.51 500.13 507.65 124.28A375.8 375.8 0 0 0 504.35 124.23Z" fill="#e1cf00"/><path d="M504.35 124.23Q493.12 488.39 168.27 323.43A375.8 375.8 0 0 1 169.72 320.71Q493.22 488.33 507.65 124.28A375.8 375.8 0 0 0 504.35 124.23Z" fill="#fa5c3e"/><path d="M504.35 124.23Q494.36 491.75 148.24 367.75A375.8 375.8 0 0 1 149.34 364.87Q494.43 491.7 507.65 124.28A375.8 375.8 0 0 0 504.35 124.23Z" fill="#d53500"/><path d="M504.35 124.23Q497.05 497.3 126.18 538.53A375.8 375.8 0 0 1 125.88 535.46Q497.07 497.28 507.65 124.28A375.8 375.8 0 0 0 504.35 124.23Z" fill="#ffed3c"/><path d="M504.35 124.23Q501.16 500.95 132.93 580.54A375.8 375.8 0 0 1 132.28 577.52Q501.16 500.96 507.65 124.28A375.8 375.8 0 0 0 504.35 124.23Z" fill="#3f3f3f"/><path d="M504.35 124.23Q503.18 502.42 138.91 604.12A375.8 375.8 0 0 1 138.07 601.15Q503.16 502.45 507.65 124.28A375.8 375.8 0 0 0 504.35 124.23Z" fill="#8f91c5"/><path d="M504.35 124.23Q509.04 506.27 149.5 635.56A375.8 375.8 0 0 1 148.4 632.68Q508.98 506.35 507.65 124.28A375.8 375.8 0 0 0 504.35 124.23Z" fill="#fc7f23"/><path d="M504.35 124.23Q509.19 506.05 156.46 652.34A375.8 375.8 0 0 1 155.23 649.52Q509.13 506.13 507.65 124.28A375.8 375.8 0 0 0 504.35 124.23Z" fill="#fa5c3e"/><path d="M504.35 124.23Q498.52 500.23 618.93 856.48A375.8 375.8 0 0 1 615.69 857.55Q498.52 500.22 507.65 124.28A375.8 375.8 0 0 0 504.35 124.23Z" fill="#085faf"/><path d="M504.35 124.23Q508.23 502.13 321.2 830.54A375.8 375.8 0 0 1 317.87 828.71Q508.21 502.21 507.65 124.28A375.8 375.8 0 0 0 504.35 124.23Z" fill="#087d37"/><path d="M504.35 124.23Q505.86 501.3 344.76 842.23A375.8 375.8 0 0 1 342.37 841.14Q505.85 501.35 507.65 124.28A375.8 375.8 0 0 0 504.35 124.23Z" fill="#5d3e9d"/></g></svg></body></html>
